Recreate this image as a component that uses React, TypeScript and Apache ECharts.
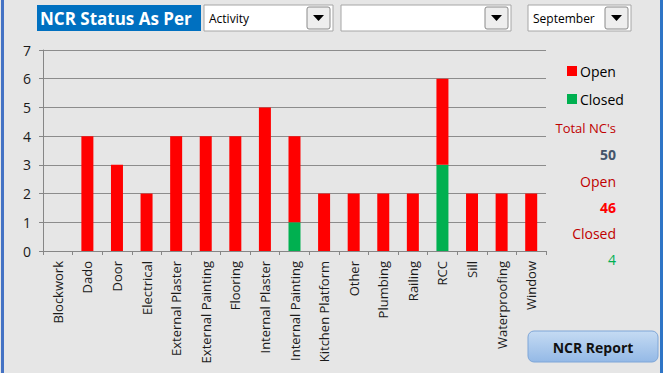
import React, { useEffect, useRef } from "react";
import * as echarts from "echarts";

const categories = [
  "Blockwork", "Dado", "Door", "Electrical", "External Plaster", "External Painting",
  "Flooring", "Internal Plaster", "Internal Painting", "Kitchen Platform", "Other",
  "Plumbing", "Railing", "RCC", "Sill", "Waterproofing", "Window",
];
const closedValues = [0, 0, 0, 0, 0, 0, 0, 0, 1, 0, 0, 0, 0, 3, 0, 0, 0];
const openValues = [0, 4, 3, 2, 4, 4, 4, 5, 3, 2, 2, 2, 2, 3, 2, 2, 2];
const yTicks = [0, 1, 2, 3, 4, 5, 6, 7];
const summary = { total: 50, open: 46, closed: 4 };

const FONT = "'Open Sans', 'Noto Sans', sans-serif";

function dropdown(x: number, w: number, label: string) {
  return [
    { type: "rect", shape: { x, y: 5, width: w, height: 26 }, style: { fill: "#ffffff", stroke: "#a6a6a6", lineWidth: 1 } },
    { type: "rect", shape: { x: x + w - 26, y: 7, width: 23, height: 22, r: 2 }, style: { fill: "#eeeeee", stroke: "#8a8a8a", lineWidth: 1 } },
    { type: "polygon", shape: { points: [[x + w - 20, 15], [x + w - 9, 15], [x + w - 14.5, 21]] }, style: { fill: "#000" } },
    { type: "text", x: x + 5, y: 18, style: { text: label, font: `12px ${FONT}`, fill: "#000", verticalAlign: "middle" } },
  ];
}

export default function App() {
  const ref = useRef<HTMLDivElement>(null);
  useEffect(() => {
    if (!ref.current) return;
    const chart = echarts.init(ref.current, null, { renderer: "svg" });
    const rightX = 616;
    chart.setOption({
      animation: false,
      backgroundColor: "#e6e6e6",
      grid: { left: 43, right: 117, top: 50, bottom: 122, containLabel: false },
      xAxis: {
        type: "category",
        data: categories,
        axisLine: { lineStyle: { color: "#868686" } },
        axisTick: { show: true, length: 4, lineStyle: { color: "#868686" } },
        axisLabel: { rotate: 90, interval: 0, margin: 10, color: "#1a1a1a", fontSize: 13, fontFamily: FONT },
      },
      yAxis: {
        type: "value",
        min: yTicks[0],
        max: yTicks[yTicks.length - 1],
        interval: 1,
        axisLine: { show: true, lineStyle: { color: "#868686" } },
        axisTick: { show: true, length: 4, lineStyle: { color: "#868686" } },
        splitLine: { lineStyle: { color: "#8c8c8c" } },
        axisLabel: { margin: 12, color: "#1a1a1a", fontSize: 14, fontFamily: FONT },
      },
      series: [
        { name: "Closed", type: "bar", stack: "s", data: closedValues, barWidth: 12, itemStyle: { color: "#00b050" } },
        { name: "Open", type: "bar", stack: "s", data: openValues, barWidth: 12, itemStyle: { color: "#ff0000" } },
      ],
      graphic: [
        { type: "rect", shape: { x: 1, y: 0, width: 3, height: 373 }, style: { fill: "#4472c4" } },
        { type: "rect", shape: { x: 660, y: 0, width: 3, height: 373 }, style: { fill: "#2e75c6" } },
        { type: "rect", shape: { x: 37, y: 5, width: 164, height: 26 }, style: { fill: "#0070c0" } },
        { type: "text", x: 40, y: 18, style: { text: "NCR Status As Per", font: `bold 17px ${FONT}`, fill: "#ffffff", verticalAlign: "middle" } },
        ...dropdown(204, 129, "Activity"),
        ...dropdown(341, 170, ""),
        ...dropdown(528, 103, "September"),
        { type: "rect", shape: { x: 567, y: 66, width: 10, height: 10 }, style: { fill: "#ff0000" } },
        { type: "text", x: 580, y: 71, style: { text: "Open", font: `14px ${FONT}`, fill: "#000", verticalAlign: "middle" } },
        { type: "rect", shape: { x: 567, y: 94, width: 10, height: 10 }, style: { fill: "#00b050" } },
        { type: "text", x: 580, y: 99, style: { text: "Closed", font: `14px ${FONT}`, fill: "#000", verticalAlign: "middle" } },
        { type: "text", x: rightX, y: 128, style: { text: "Total NC's", font: `13px ${FONT}`, fill: "#c00000", align: "right", verticalAlign: "middle" } },
        { type: "text", x: rightX, y: 154, style: { text: String(summary.total), font: `bold 14px ${FONT}`, fill: "#44546a", align: "right", verticalAlign: "middle" } },
        { type: "text", x: rightX, y: 181, style: { text: "Open", font: `14px ${FONT}`, fill: "#c00000", align: "right", verticalAlign: "middle" } },
        { type: "text", x: rightX, y: 207, style: { text: String(summary.open), font: `bold 14px ${FONT}`, fill: "#ff0000", align: "right", verticalAlign: "middle" } },
        { type: "text", x: rightX, y: 233, style: { text: "Closed", font: `14px ${FONT}`, fill: "#c00000", align: "right", verticalAlign: "middle" } },
        { type: "text", x: rightX, y: 259, style: { text: String(summary.closed), font: `14px ${FONT}`, fill: "#00b050", align: "right", verticalAlign: "middle" } },
        {
          type: "rect",
          shape: { x: 528, y: 331, width: 130, height: 31, r: 6 },
          style: {
            fill: new echarts.graphic.LinearGradient(0, 0, 0, 1, [
              { offset: 0, color: "#c5dbf3" },
              { offset: 1, color: "#94b9e6" },
            ]),
            stroke: "#7ea6d8",
            lineWidth: 1,
          },
        },
        { type: "text", x: 593, y: 347, style: { text: "NCR Report", font: `bold 14px ${FONT}`, fill: "#111", align: "center", verticalAlign: "middle" } },
      ],
    });
    return () => chart.dispose();
  }, []);
  return <div ref={ref} style={{ position: "fixed", left: 0, top: 0, width: 663, height: 373 }} />;
}
